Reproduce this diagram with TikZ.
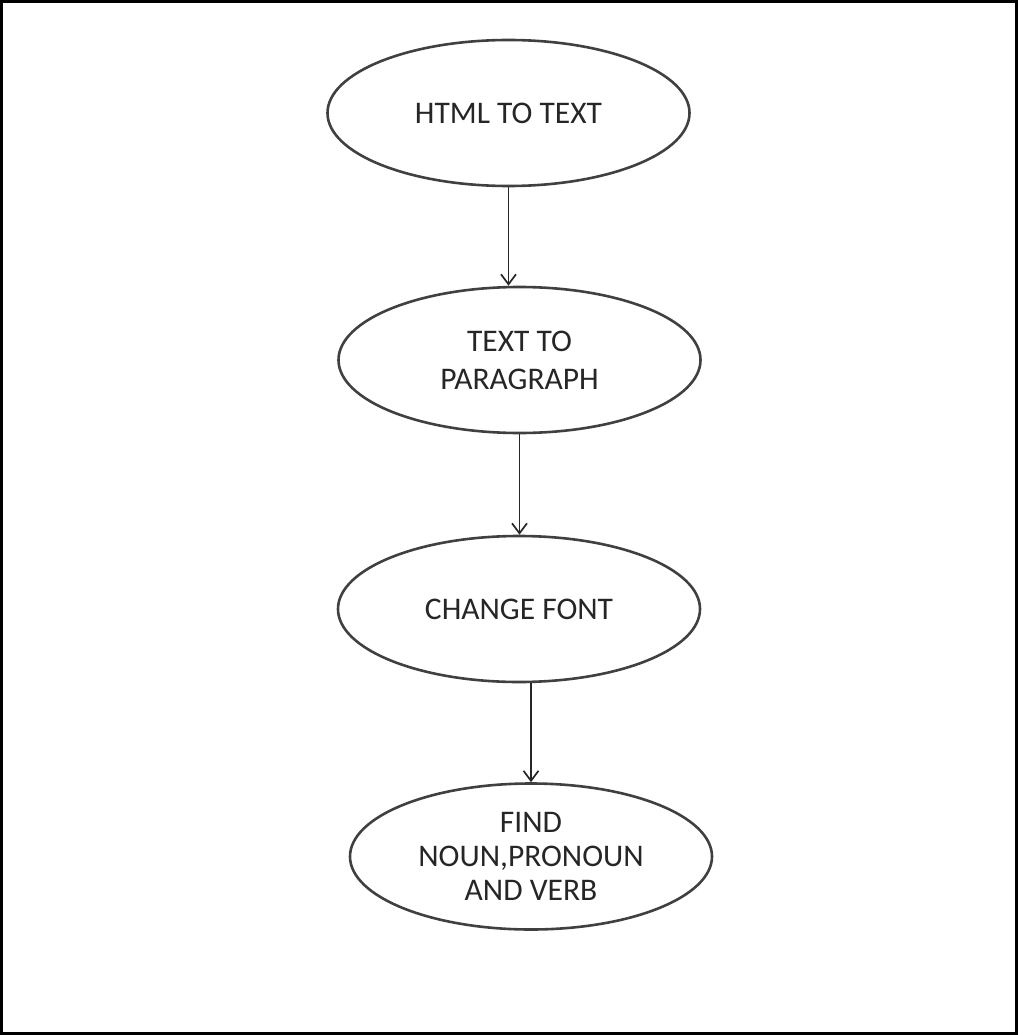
\documentclass[tikz,border=0pt]{standalone}
\usepackage{fontspec}
\setmainfont{Carlito}
\usetikzlibrary{shapes.geometric,arrows.meta}
\begin{document}
\begin{tikzpicture}[x=1pt,y=-1pt,
  stage/.style={ellipse,draw=black!75,line width=2.6pt,minimum width=362pt,minimum height=146pt,inner sep=0pt,text=black!85,align=center,font=\fontsize{31.5}{38}\selectfont},
  flow/.style={draw=black!85,line width=1.7pt,-{Straight Barb[length=10pt,width=15pt]}}]
\useasboundingbox (0,0) rectangle (1018,1035);
\draw[line width=3pt,black] (1.5,1.5) rectangle (1016.5,1033.5);
\node[stage] (e1) at (508.5,113) {HTML TO TEXT};
\node[stage] (e2) at (519.5,360) {TEXT TO\\PARAGRAPH};
\node[stage] (e3) at (519,609) {CHANGE FONT};
\node[stage,font=\fontsize{31.5}{34}\selectfont] (e4) at (531,856.5) {FIND\\NOUN,PRONOUN\\AND VERB};
\draw[flow] (e1.south) -- (e1.south |- e2.north);
\draw[flow] (e2.south) -- (e2.south |- e3.north);
\draw[flow] (e4.north |- e3.south) -- (e4.north);
\end{tikzpicture}
\end{document}
